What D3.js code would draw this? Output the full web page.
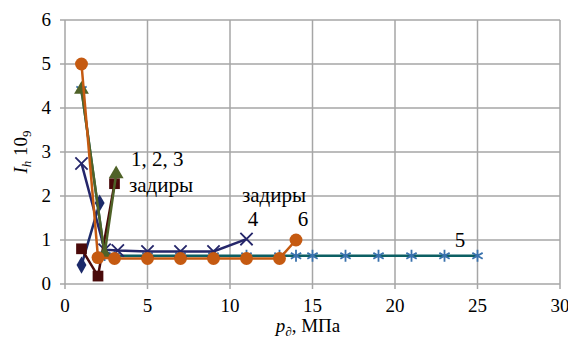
<!DOCTYPE html>
<html>
<head>
<meta charset="utf-8">
<script src="https://cdn.jsdelivr.net/npm/d3@7"></script>
<style>
  body { margin: 0; background: #fff; }
  text { font-family: "Liberation Serif", "DejaVu Serif", serif; fill: #000; }
</style>
</head>
<body>
<div class="viz"></div>
<script>
var width = 568,
    height = 341;

// data
var xTicks = [0, 5, 10, 15, 20, 25, 30];
var yTicks = [0, 1, 2, 3, 4, 5, 6];

var p1 = [1, 2.1],           i1 = [0.43, 1.84];
var p2 = [1, 2, 3],          i2 = [0.8, 0.18, 2.28];
var p3 = [1, 2.4, 3.1],      i3 = [4.42, 0.68, 2.5];
var p4 = [1, 2.4, 3.2, 5, 7, 9, 11], i4 = [2.74, 0.78, 0.76, 0.74, 0.74, 0.74, 1.02];
var p5 = [1, 2.4, 3, 5, 7, 9, 11, 13, 14, 15, 17, 19, 21, 23, 25];
var i5 = [4.42, 0.66, 0.64, 0.64, 0.64, 0.64, 0.64, 0.64, 0.64, 0.64, 0.64, 0.64, 0.64, 0.64, 0.64];
var p6 = [1, 2, 3, 5, 7, 9, 11, 13, 14], i6 = [5.0, 0.6, 0.58, 0.58, 0.58, 0.58, 0.58, 0.58, 1.0];

var series = [
    {p: p5, v: i5, line: "#0c5f63", mark: "#3a72ad", sym: d3.symbolAsterisk, size: 100, stroke: true},
    {p: p4, v: i4, line: "#25266a", mark: "#25266a", sym: d3.symbolX, size: 100, stroke: true},
    {p: p1, v: i1, line: "#1c2a6a", mark: "#1c2a6a", sym: d3.symbolDiamond, size: 85},
    {p: p2, v: i2, line: "#4a0a0a", mark: "#4a0a0a", sym: d3.symbolSquare, size: 115},
    {p: p3, v: i3, line: "#4f6228", mark: "#4f6228", sym: d3.symbolTriangle, size: 95},
    {p: p6, v: i6, line: "#c55a11", mark: "#c55a11", sym: d3.symbolCircle, size: 130}
];

var svg = d3.select(".viz").append("svg")
    .attr("width", width)
    .attr("height", height);

var x = d3.scaleLinear().domain([0, 30]).range([65, 560]);
var y = d3.scaleLinear().domain([0, 6]).range([284, 20]);

// grid
svg.append("g").selectAll("line.v")
    .data(xTicks)
    .enter().append("line")
    .attr("x1", function(d) { return x(d); })
    .attr("x2", function(d) { return x(d); })
    .attr("y1", y(6))
    .attr("y2", y(0) + 5)
    .attr("stroke", "#a6a6a6")
    .attr("stroke-width", 1.5);

svg.append("g").selectAll("line.h")
    .data(yTicks)
    .enter().append("line")
    .attr("x1", x(0) - 5)
    .attr("x2", x(30))
    .attr("y1", function(d) { return y(d); })
    .attr("y2", function(d) { return y(d); })
    .attr("stroke", "#a6a6a6")
    .attr("stroke-width", 1.5);

// tick labels
svg.append("g").selectAll("text")
    .data(xTicks)
    .enter().append("text")
    .attr("x", function(d) { return x(d); })
    .attr("y", 312)
    .attr("text-anchor", "middle")
    .style("font-size", "19px")
    .text(function(d) { return d; });

svg.append("g").selectAll("text")
    .data(yTicks)
    .enter().append("text")
    .attr("x", 51)
    .attr("y", function(d) { return y(d) + 6; })
    .attr("text-anchor", "end")
    .style("font-size", "19px")
    .text(function(d) { return d; });

// axis titles
var xt = svg.append("text")
    .attr("x", 308)
    .attr("y", 332)
    .attr("text-anchor", "middle")
    .style("font-size", "19px");
xt.append("tspan").style("font-style", "italic").text("p");
xt.append("tspan").style("font-style", "italic").style("font-size", "13px").attr("dy", 4).text("∂");
xt.append("tspan").attr("dy", -4).text(", МПа");

var yt = svg.append("text")
    .attr("transform", "translate(27,152) rotate(-90)")
    .attr("text-anchor", "middle")
    .style("font-size", "19px");
yt.append("tspan").style("font-style", "italic").text("I");
yt.append("tspan").style("font-style", "italic").style("font-size", "13px").attr("dy", 4).text("h");
yt.append("tspan").attr("dy", -4).text(" 10");
yt.append("tspan").style("font-size", "13px").attr("dy", 4).text("9");

// lines and markers
var line = d3.line()
    .x(function(d) { return x(d[0]); })
    .y(function(d) { return y(d[1]); });

series.forEach(function(s) {
    var pts = d3.zip(s.p, s.v);
    svg.append("path")
        .datum(pts)
        .attr("d", line)
        .attr("fill", "none")
        .attr("stroke", s.line)
        .attr("stroke-width", 2.5);
    var sym = d3.symbol().type(s.sym).size(s.size);
    svg.append("g").selectAll("path")
        .data(pts)
        .enter().append("path")
        .attr("transform", function(d) { return "translate(" + x(d[0]) + "," + y(d[1]) + ")"; })
        .attr("d", sym)
        .attr("fill", s.stroke ? "none" : s.mark)
        .attr("stroke", s.mark)
        .attr("stroke-width", s.stroke ? 1.8 : 0);
});

// annotations
var notes = [
    {t: "1, 2, 3", x: 131, y: 166, a: "start"},
    {t: "задиры", x: 129, y: 192, a: "start"},
    {t: "задиры", x: 274, y: 202, a: "middle"},
    {t: "4", x: 253, y: 226, a: "middle"},
    {t: "6", x: 303, y: 226, a: "middle"},
    {t: "5", x: 460, y: 247, a: "middle"}
];
svg.append("g").selectAll("text")
    .data(notes)
    .enter().append("text")
    .attr("x", function(d) { return d.x; })
    .attr("y", function(d) { return d.y; })
    .attr("text-anchor", function(d) { return d.a; })
    .style("font-size", "21px")
    .text(function(d) { return d.t; });
</script>
</body>
</html>
